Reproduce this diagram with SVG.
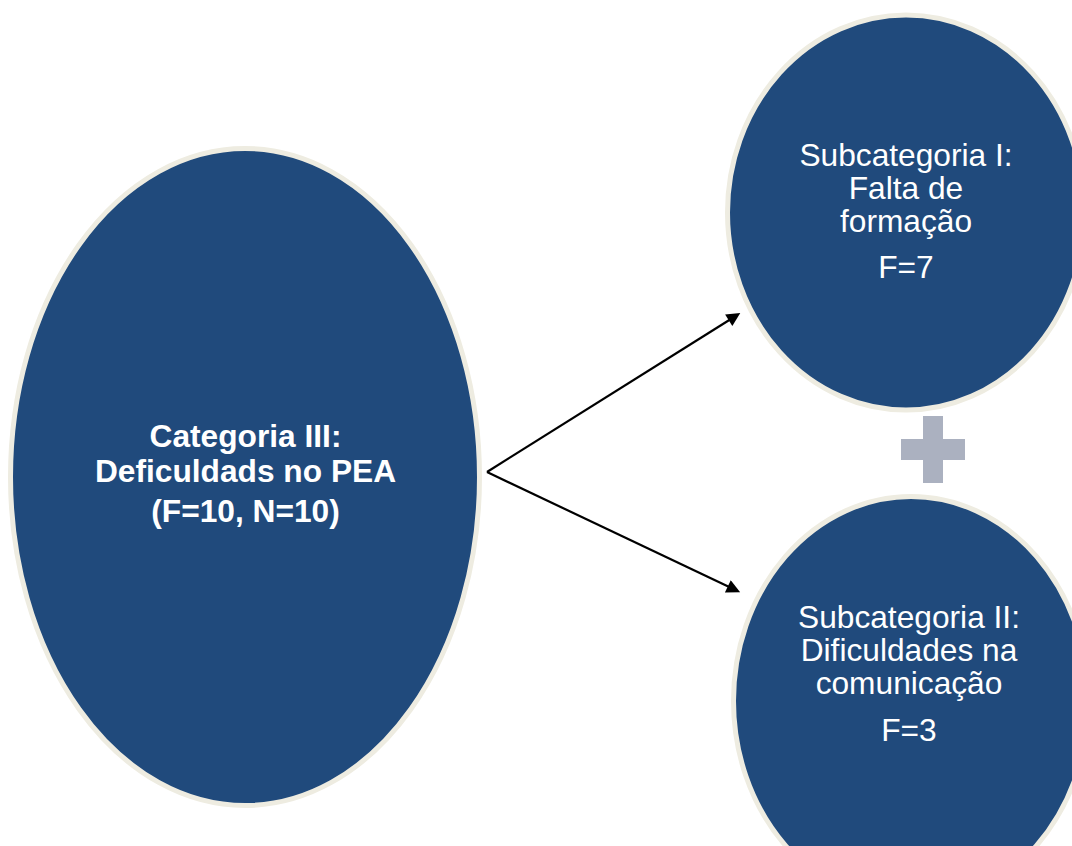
<svg xmlns="http://www.w3.org/2000/svg" width="1072" height="846" viewBox="0 0 1072 846">
  <style>
    .node { fill: #204A7C; stroke: #EEECE1; stroke-width: 5; }
    .label { font-family: "Liberation Sans", Arial, sans-serif; font-size: 31.7px; fill: #FFFFFF; text-anchor: middle; }
    .bold { font-weight: bold; }
    .link { stroke: #000000; stroke-width: 2.2; fill: none; marker-end: url(#arrow); }
    .plus { fill: #ABB1C0; }
  </style>
  <defs>
    <marker id="arrow" viewBox="0 0 10 10" refX="5" refY="5" markerWidth="8.2" markerHeight="6.2" markerUnits="strokeWidth" orient="auto">
      <path d="M0,0 L10,5 L0,10 z" fill="#000000"/>
    </marker>
  </defs>
  <rect width="1072" height="846" fill="#FFFFFF"/>

  <g id="category">
    <ellipse class="node" cx="245" cy="477" rx="234.5" ry="328.5"/>
    <text class="label bold" x="245.5" y="447">Categoria III:</text>
    <text class="label bold" x="245.5" y="482">Deficuldads no PEA</text>
    <text class="label bold" x="245.5" y="522">(F=10, N=10)</text>
  </g>

  <g id="sub1">
    <ellipse class="node" cx="906" cy="212.5" rx="178.5" ry="197.5"/>
    <text class="label" x="906" y="166">Subcategoria I:</text>
    <text class="label" x="906" y="199">Falta de</text>
    <text class="label" x="906" y="232">formação</text>
    <text class="label" x="906" y="278">F=7</text>
  </g>

  <g id="sub2">
    <ellipse class="node" cx="911" cy="701" rx="177.5" ry="204.5"/>
    <text class="label" x="909" y="628">Subcategoria II:</text>
    <text class="label" x="909" y="661">Dificuldades na</text>
    <text class="label" x="909" y="694">comunicação</text>
    <text class="label" x="909" y="741">F=3</text>
  </g>

  <g id="plus">
    <rect class="plus" x="923" y="416" width="20" height="67"/>
    <rect class="plus" x="901" y="439" width="64" height="21"/>
  </g>

  <g id="connectors">
    <polyline class="link" points="487,472 734.5,316.7"/>
    <polyline class="link" points="487,472 734,589.3"/>
  </g>
</svg>
